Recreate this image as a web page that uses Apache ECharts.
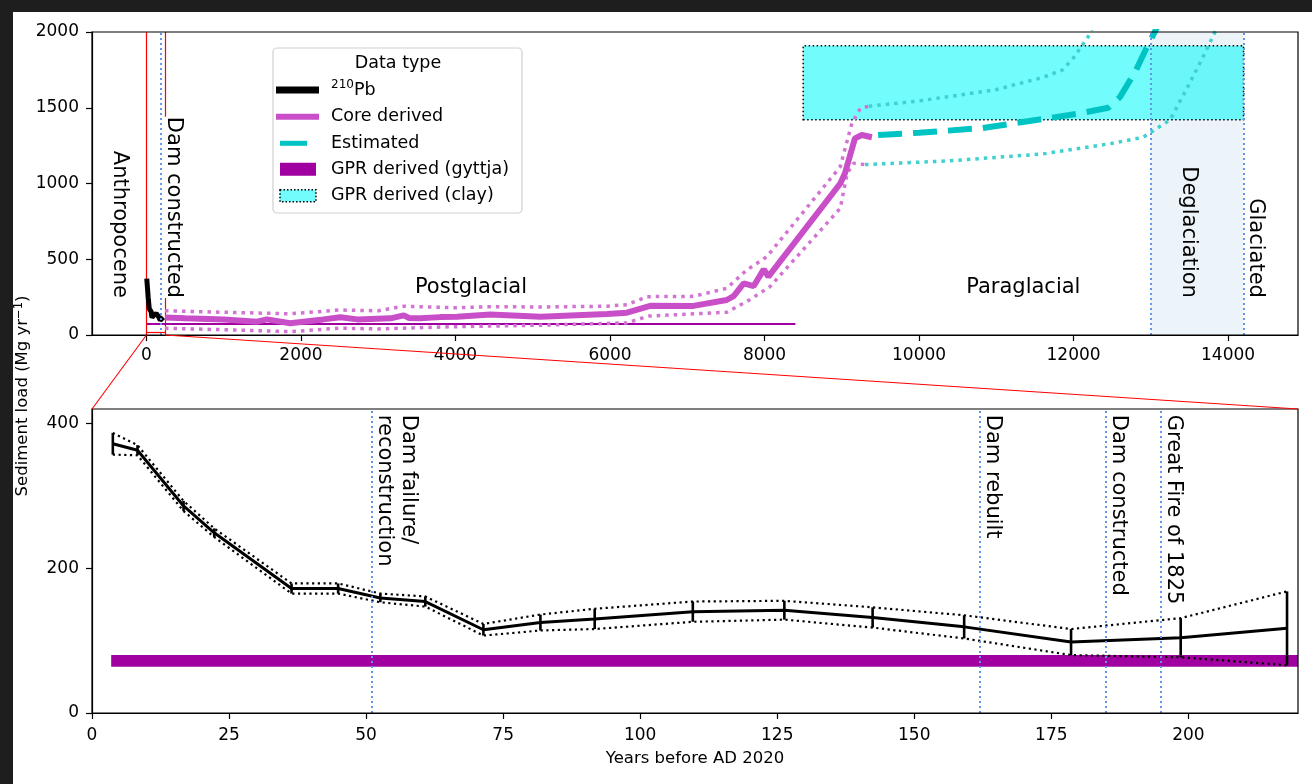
<!DOCTYPE html>
<html>
<head>
<meta charset="utf-8">
<title>Sediment load</title>
<script src="https://cdn.jsdelivr.net/npm/echarts@6/dist/echarts.min.js"></script>
<style>
    html, body { margin: 0; padding: 0; background: #1e1e1e; }
    #main { position: absolute; left: 13px; top: 12px; width: 1299px; height: 772px; background: #fff; }
</style>
</head>
<body>
<div id="main"></div>
<script>
// tick labels
var topXTicks = [0, 2000, 4000, 6000, 8000, 10000, 12000, 14000];
var topYTicks = [0, 500, 1000, 1500, 2000];
var bottomXTicks = [0, 25, 50, 75, 100, 125, 150, 175, 200];
var bottomYTicks = [0, 200, 400];
var bottomXMax = 220;
var bottomYMax = 420;

// 210Pb derived loads (years before AD 2020)
var pbYears = [3.8, 8.3, 16.7, 22.3, 36.4, 44.9, 52.6, 60.8, 71.4, 81.8, 91.7, 109.6, 126.3, 142.4, 159.1, 178.6, 198.6, 218];
var pbLoad = [372, 363, 286, 249, 172, 172, 159, 154, 115, 125, 130, 140, 142, 132, 119, 98, 104, 117];
var pbErr = [15, 7, 7, 6, 7, 7, 6, 7, 8, 11, 14, 14, 13, 14, 16, 18, 27, 51];

// core derived
var coreYears = [240, 500, 1000, 1430, 1560, 1860, 2290, 2510, 2730, 3160, 3330, 3400, 3550, 3800, 4020, 4450, 5100, 5960, 6220, 6520, 7080, 7510, 7600, 7730, 7860, 7990, 8050, 8980, 9040, 9170, 9260, 9390];
var coreLoad = [115, 110, 103, 88, 103, 78, 103, 117, 103, 110, 130, 112, 110, 118, 121, 135, 121, 139, 147, 193, 192, 231, 257, 341, 323, 433, 385, 1000, 1066, 1298, 1320, 1305];
var coreUpperYears = [240, 1000, 1860, 2500, 3000, 3330, 4000, 4450, 5100, 5960, 6220, 6480, 7080, 7510, 7770, 8030, 8980, 9130, 9240, 9350];
var coreUpper = [160, 150, 140, 165, 160, 190, 180, 187, 185, 190, 200, 253, 255, 308, 429, 517, 1111, 1397, 1496, 1510];
var coreLowerYears = [240, 1000, 1860, 2500, 3000, 4000, 5100, 6220, 6500, 7510, 7800, 8070, 8980, 9070, 9150, 9300];
var coreLower = [44, 35, 22, 45, 40, 55, 65, 80, 125, 150, 230, 319, 836, 1067, 1133, 1125];

// estimated
var estYears = [9470, 10000, 10800, 11600, 12100, 12450, 12600, 12800, 12950, 13100];
var estLoad = [1320, 1335, 1365, 1425, 1465, 1500, 1570, 1740, 1900, 2050];
var estUpperYears = [9350, 10000, 11000, 11600, 11860, 12000, 12190, 12240];
var estUpper = [1510, 1545, 1620, 1700, 1750, 1830, 1970, 2020];
var estLowerYears = [9300, 10400, 11600, 12500, 12900, 13250, 13500, 13700, 13840];
var estLower = [1125, 1150, 1195, 1265, 1305, 1420, 1660, 1860, 2010];

// GPR derived
var gyttjaYears = [3.5, 8400];
var gyttjaLoad = 72;
var gyttjaBand = [64, 80];
var clayYears = [8500, 14200];
var clayLoad = [1420, 1910];

var deglaciation = [13000, 14200];
var insetYears = [0, 240];
var topEvents = [185, 13000, 14200];
var bottomEvents = [51, 162, 185, 195];
var bottomEventNames = ['Dam failure/\nreconstruction', 'Dam rebuilt', 'Dam constructed', 'Great Fire of 1825'];
var periodNames = ['Anthropocene', 'Dam constructed', 'Deglaciation', 'Glaciated'];
var periodX = [-350, 347, 13484, 14360];
var stageNames = ['Postglacial', 'Paraglacial'];
var stageX = [4200, 11350];

var FONT = 'DejaVu Sans';
var blueDots = {color: '#6495ed', width: 2, type: [2, 3]};

function zip(xs, ys) {
    return xs.map(function (x, i) { return [x, ys[i]]; });
}

function axisBase(gridIndex, min, max, ticks, margin) {
    return {
        gridIndex: gridIndex,
        type: 'value',
        min: min,
        max: max,
        axisLine: {onZero: false, lineStyle: {color: '#000', width: 1.2}},
        axisTick: {customValues: ticks, length: 6, lineStyle: {color: '#000', width: 1.2}},
        axisLabel: {
            customValues: ticks, margin: margin, color: '#000', fontSize: 17, fontFamily: FONT,
            formatter: function (v) { return String(v); }
        },
        splitLine: {show: false}
    };
}

var xTop = axisBase(0, -705, 14905, topXTicks, 12);
var yTop = axisBase(0, 0, 2000, topYTicks, 13);
var xBottom = axisBase(1, 0, bottomXMax, bottomXTicks, 14);
xBottom.name = 'Years before AD 2020';
xBottom.nameLocation = 'middle';
xBottom.nameGap = 37;
xBottom.nameTextStyle = {color: '#000', fontSize: 16.5, fontFamily: FONT};
var yBottom = axisBase(1, 0, bottomYMax, bottomYTicks, 13);

var errData = pbYears.map(function (x, i) {
    return [x, pbLoad[i] - pbErr[i], pbLoad[i] + pbErr[i]];
});

var option = {
    animation: false,
    textStyle: {fontFamily: FONT},
    grid: [
        {left: 79, top: 20, width: 1206, height: 303, show: true, z: 10,
            backgroundColor: 'rgba(0,0,0,0)', borderColor: '#000', borderWidth: 1.2},
        {left: 79, top: 397, width: 1206, height: 304, show: true, z: 10,
            backgroundColor: 'rgba(0,0,0,0)', borderColor: '#000', borderWidth: 1.2}
    ],
    xAxis: [xTop, xBottom],
    yAxis: [yTop, yBottom],
    series: [
        // ---- top panel ----
        {
            name: 'GPR derived (gyttja)', type: 'line', xAxisIndex: 0, yAxisIndex: 0, z: 2,
            symbol: 'none', data: zip(gyttjaYears, [gyttjaLoad, gyttjaLoad]),
            lineStyle: {color: '#a0009f', width: 2},
            markArea: {
                silent: true, z: 1,
                data: [
                    [{xAxis: deglaciation[0], itemStyle: {color: '#edf4f9', opacity: 1}}, {xAxis: deglaciation[1]}],
                    [{coord: [clayYears[0], clayLoad[0]], itemStyle: {color: 'rgba(0,250,250,0.55)', opacity: 1, borderColor: '#000', borderWidth: 1.5, borderType: [1.5, 2.5]}},
                        {coord: [clayYears[1], clayLoad[1]]}]
                ]
            },
            markLine: {
                silent: true, z: 5, symbol: ['none', 'none'], label: {show: false},
                lineStyle: blueDots,
                data: topEvents.map(function (v) { return {xAxis: v}; })
            }
        },
        {
            name: 'inset', type: 'line', xAxisIndex: 0, yAxisIndex: 0, data: [],
            markLine: {
                silent: true, z: 1, symbol: ['none', 'none'], label: {show: false},
                lineStyle: {color: '#ff0000', width: 1.2, type: 'solid'},
                data: [{xAxis: insetYears[0]}, {xAxis: insetYears[1]},
                    [{coord: [insetYears[0], 20]}, {coord: [insetYears[1], 20]}]]
            }
        },
        {
            name: 'core upper', type: 'line', xAxisIndex: 0, yAxisIndex: 0, z: 2, symbol: 'none',
            data: zip(coreUpperYears, coreUpper),
            lineStyle: {color: '#d274d2', width: 3.5, type: [3.5, 5]}
        },
        {
            name: 'core lower', type: 'line', xAxisIndex: 0, yAxisIndex: 0, z: 2, symbol: 'none',
            data: zip(coreLowerYears, coreLower),
            lineStyle: {color: '#d274d2', width: 3.5, type: [3.5, 5]}
        },
        {
            name: 'Core derived', type: 'line', xAxisIndex: 0, yAxisIndex: 0, z: 3, symbol: 'none',
            data: zip(coreYears, coreLoad),
            lineStyle: {color: '#c94fc9', width: 6}
        },
        {
            name: 'est upper', type: 'line', xAxisIndex: 0, yAxisIndex: 0, z: 2, symbol: 'none',
            data: zip(estUpperYears, estUpper),
            lineStyle: {color: '#3fd0d0', width: 3.5, type: [3.5, 5]}
        },
        {
            name: 'est lower', type: 'line', xAxisIndex: 0, yAxisIndex: 0, z: 2, symbol: 'none',
            data: zip(estLowerYears, estLower),
            lineStyle: {color: '#3fd0d0', width: 3.5, type: [3.5, 5]}
        },
        {
            name: 'Estimated', type: 'line', xAxisIndex: 0, yAxisIndex: 0, z: 3, symbol: 'none',
            data: zip(estYears, estLoad),
            lineStyle: {color: '#00c4c4', width: 6, type: [24, 11]}
        },
        {
            name: '210Pb', type: 'line', xAxisIndex: 0, yAxisIndex: 0, z: 4, symbol: 'none',
            data: zip(pbYears, pbLoad),
            lineStyle: {color: '#000', width: 5}
        },
        // ---- bottom panel ----
        {
            name: 'GPR band', type: 'line', xAxisIndex: 1, yAxisIndex: 1, z: 2, data: [],
            markArea: {
                silent: true, z: 1,
                data: [[{coord: [gyttjaYears[0], gyttjaBand[0]], itemStyle: {color: '#a0009f', opacity: 1}},
                    {coord: [bottomXMax, gyttjaBand[1]]}]]
            },
            markLine: {
                silent: true, z: 5, symbol: ['none', 'none'], label: {show: false},
                lineStyle: blueDots,
                data: bottomEvents.map(function (v) { return {xAxis: v}; })
            }
        },
        {
            name: 'pb upper', type: 'line', xAxisIndex: 1, yAxisIndex: 1, z: 3, symbol: 'none',
            data: errData.map(function (d) { return [d[0], d[2]]; }),
            lineStyle: {color: '#000', width: 2.2, type: [2.2, 3.5]}
        },
        {
            name: 'pb lower', type: 'line', xAxisIndex: 1, yAxisIndex: 1, z: 3, symbol: 'none',
            data: errData.map(function (d) { return [d[0], d[1]]; }),
            lineStyle: {color: '#000', width: 2.2, type: [2.2, 3.5]}
        },
        {
            name: 'pb', type: 'line', xAxisIndex: 1, yAxisIndex: 1, z: 4, symbol: 'none',
            data: zip(pbYears, pbLoad),
            lineStyle: {color: '#000', width: 3}
        },
        {
            name: 'pb error', type: 'custom', xAxisIndex: 1, yAxisIndex: 1, z: 4,
            data: errData,
            encode: {x: 0, y: [1, 2]},
            renderItem: function (params, api) {
                var lo = api.coord([api.value(0), api.value(1)]);
                var hi = api.coord([api.value(0), api.value(2)]);
                return {
                    type: 'line',
                    shape: {x1: lo[0], y1: lo[1], x2: hi[0], y2: hi[1]},
                    style: {stroke: '#000', lineWidth: 2.6}
                };
            }
        }
    ]
};

var chart = echarts.init(document.getElementById('main'));
chart.setOption(option);

function px(g, v) {
    return chart.convertToPixel({gridIndex: g}, v);
}

var graphics = [];
var txt = {fill: '#000', fontFamily: FONT, fontSize: 21};

// period names, rotated, in the upper panel
periodNames.forEach(function (name, i) {
    var p = px(0, [periodX[i], 245]);
    var style = Object.assign({}, txt, {text: name, align: 'right', verticalAlign: 'middle', lineHeight: 20});
    if (name === 'Dam constructed') {
        style.backgroundColor = '#fff';
    }
    graphics.push({type: 'text', x: p[0], y: p[1], rotation: -Math.PI / 2, z: 60, style: style});
});
stageNames.forEach(function (name, i) {
    var p = px(0, [stageX[i], 310]);
    graphics.push({type: 'text', x: p[0], y: p[1], z: 60,
        style: Object.assign({}, txt, {text: name, align: 'center', verticalAlign: 'middle'})});
});

// event names, lower panel
bottomEvents.forEach(function (v, i) {
    var p = px(1, [v, 412]);
    graphics.push({type: 'text', x: p[0] + 0.5, y: p[1], rotation: -Math.PI / 2, z: 60,
        style: Object.assign({}, txt, {text: bottomEventNames[i], align: 'left', verticalAlign: 'bottom', lineHeight: 24})});
});

// zoom connectors
var a1 = px(0, [insetYears[0], 0]), b1 = px(1, [0, bottomYMax]);
var a2 = px(0, [insetYears[1], 0]), b2 = px(1, [bottomXMax, bottomYMax]);
graphics.push({type: 'line', z: 20, shape: {x1: a1[0], y1: a1[1], x2: b1[0], y2: b1[1]}, style: {stroke: '#ff0000', lineWidth: 1.1}});
graphics.push({type: 'line', z: 20, shape: {x1: a2[0], y1: a2[1], x2: b2[0], y2: b2[1]}, style: {stroke: '#ff0000', lineWidth: 1.1}});

// shared y label
graphics.push({type: 'text', x: 10, y: 384, rotation: Math.PI / 2, z: 60,
    style: {text: '{n|Sediment load (Mg yr}{s|−1}{n|)}', align: 'center', verticalAlign: 'middle', fill: '#000',
        rich: {n: {fontSize: 16.5, fontFamily: FONT, lineHeight: 20, fill: '#000'},
            s: {fontSize: 11.5, fontFamily: FONT, lineHeight: 12, verticalAlign: 'top', fill: '#000'}}}});

// legend
var lgText = {fill: '#000', fontFamily: FONT, fontSize: 17.5};
graphics.push({type: 'rect', z: 50, shape: {x: 260, y: 36, width: 249, height: 165, r: 4},
    style: {fill: 'rgba(255,255,255,0.85)', stroke: '#d0d0d0', lineWidth: 1.2}});
graphics.push({type: 'text', z: 51, x: 385, y: 51, style: Object.assign({}, lgText, {text: 'Data type', align: 'center', verticalAlign: 'middle'})});
var rowY = [78, 104.7, 131.3, 157.3, 183.7];
graphics.push({type: 'rect', z: 51, shape: {x: 263, y: rowY[0] - 3.5, width: 43, height: 7}, style: {fill: '#000'}});
graphics.push({type: 'rect', z: 51, shape: {x: 263, y: rowY[1] - 3, width: 43, height: 6}, style: {fill: '#c94fc9'}});
graphics.push({type: 'rect', z: 51, shape: {x: 267, y: rowY[2] - 2.5, width: 27, height: 5}, style: {fill: '#00c4c4'}});
graphics.push({type: 'rect', z: 51, shape: {x: 267, y: rowY[3] - 6.5, width: 36, height: 13}, style: {fill: '#a0009f'}});
graphics.push({type: 'rect', z: 51, shape: {x: 267, y: rowY[4] - 6, width: 36, height: 12},
    style: {fill: 'rgba(0,250,250,0.55)', stroke: '#000', lineWidth: 1.5, lineDash: [1.5, 2]}});
graphics.push({type: 'text', z: 51, x: 318, y: rowY[0], style: {text: '{s|210}{n|Pb}', verticalAlign: 'middle',
    rich: {n: {fontSize: 17.5, fontFamily: FONT, lineHeight: 22, fill: '#000'},
        s: {fontSize: 12, fontFamily: FONT, lineHeight: 12, verticalAlign: 'top', fill: '#000'}}}});
['Core derived', 'Estimated', 'GPR derived (gyttja)', 'GPR derived (clay)'].forEach(function (name, i) {
    graphics.push({type: 'text', z: 51, x: 318, y: rowY[i + 1], style: Object.assign({}, lgText, {text: name, verticalAlign: 'middle'})});
});

chart.setOption({graphic: graphics});
</script>
</body>
</html>
